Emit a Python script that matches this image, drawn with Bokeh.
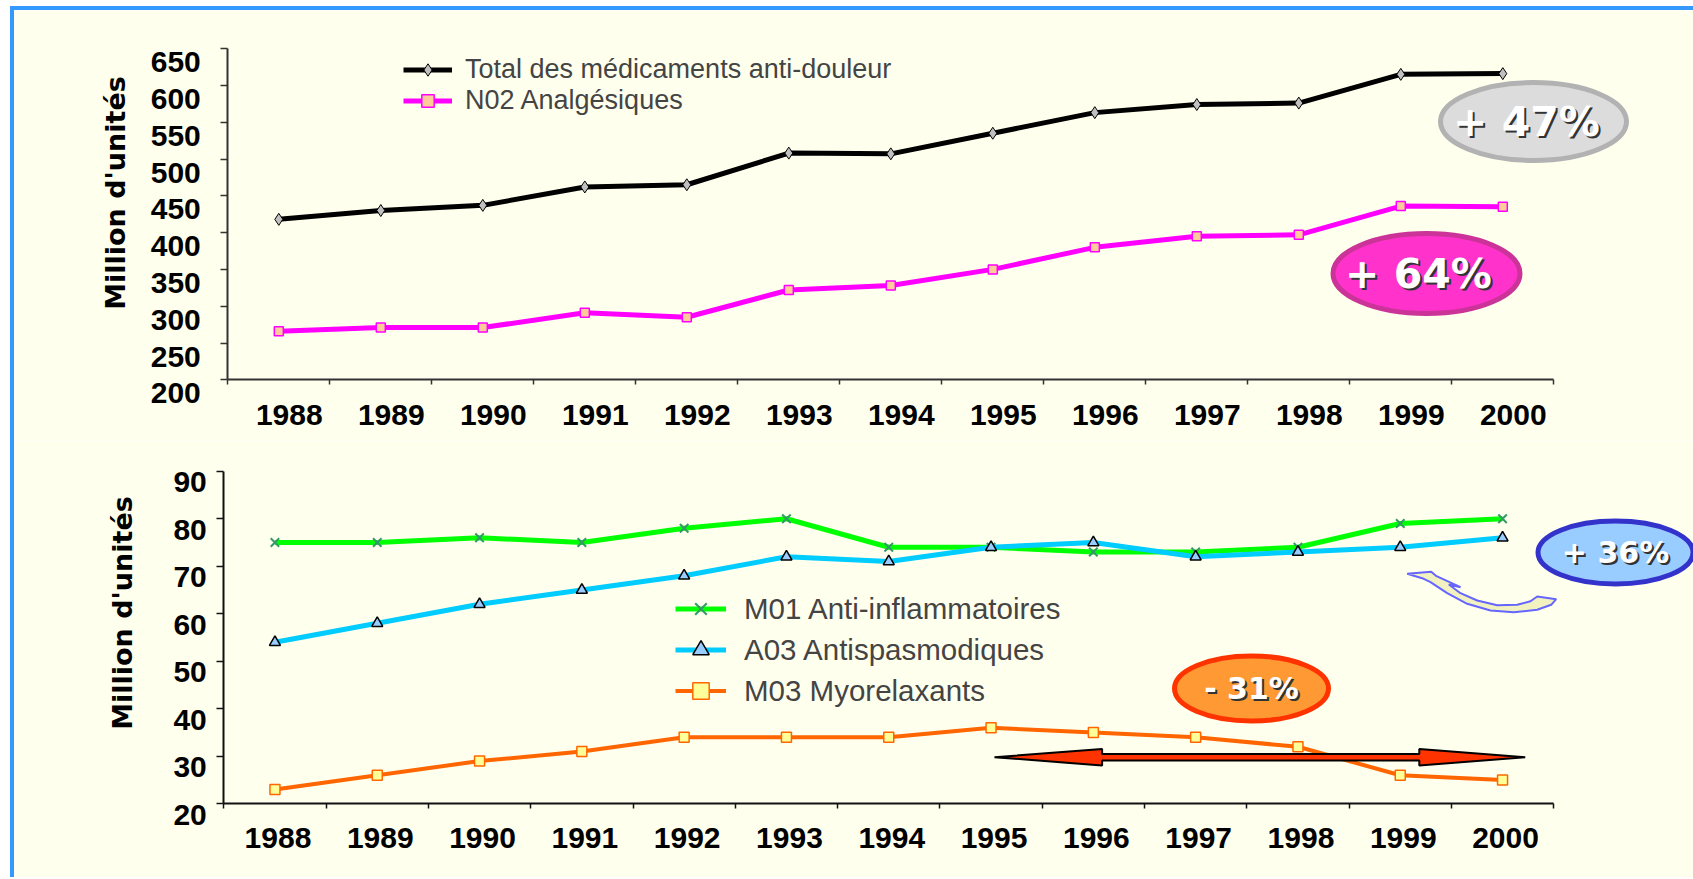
import math
from bokeh.plotting import figure
from bokeh.models import (Range1d, FixedTicker, LinearAxis, Legend, LegendItem)
from bokeh.layouts import column
from bokeh.embed import file_html
from bokeh.resources import INLINE
from bokeh.core.properties import value

# ---------------- data ----------------
years = list(range(1988, 2001))
year_labels = [str(y) for y in years]
total_antidouleur = [418, 430, 437, 462, 465, 508, 507, 535, 563, 574, 576, 615, 616]
n02_analgesiques = [266, 271, 271, 291, 285, 322, 328, 350, 380, 395, 397, 436, 435]
m01_anti_inflammatoires = [75, 75, 76, 75, 78, 80, 74, 74, 73, 73, 74, 79, 80]
a03_antispasmodiques = [54, 58, 62, 65, 68, 72, 71, 74, 75, 72, 73, 74, 76]
m03_myorelaxants = [23, 26, 29, 31, 34, 34, 34, 36, 35, 34, 32, 26, 25]
top_ticks = [200, 250, 300, 350, 400, 450, 500, 550, 600, 650]
bottom_ticks = [20, 30, 40, 50, 60, 70, 80, 90]
top_legend = ["Total des médicaments anti-douleur", "N02 Analgésiques"]
bottom_legend = ["M01 Anti-inflammatoires", "A03 Antispasmodiques", "M03 Myorelaxants"]
top_badges = ["+ 47%", "+ 64%"]
bottom_badges = ["+ 36%", "- 31%"]
y_title = "Million d'unités"

# ---------------- layout / style ----------------
BG = "#ffffee"
BADGE_FONT = value("DejaVu Sans")
TITLE_FONT = value("DejaVu Sans")
ORIGIN_X = 14      # page x of the figures' left edge (10px margin + 4px border)
WIDTH = 1679


def make_fig(top_px, height, axis_x, axis_y, px_year, px_unit, yticks, color,
             xlab_shift, ylab_shift, ylab_standoff, xlab_standoff):
    x_base = years[0] - 0.5
    y_base = yticks[0]
    x0 = x_base - (axis_x - ORIGIN_X) / px_year
    x1 = x0 + WIDTH / px_year
    y0 = y_base - (top_px + height - axis_y) / px_unit
    y1 = y_base + (axis_y - top_px) / px_unit
    p = figure(frame_width=WIDTH, frame_height=height,
               min_border_left=0, min_border_right=0,
               min_border_top=0, min_border_bottom=0,
               x_range=Range1d(x0, x1), y_range=Range1d(y0, y1),
               output_backend="svg", toolbar_location=None,
               background_fill_color=BG, border_fill_color=BG,
               outline_line_color=None)
    p.xgrid.visible = False
    p.ygrid.visible = False

    dx = xlab_shift / px_year
    dy = ylab_shift / px_unit
    p.extra_x_ranges = {"xlab": Range1d(x0 - dx, x1 - dx)}
    p.extra_y_ranges = {"ylab": Range1d(y0 + dy, y1 + dy)}

    # main x axis: line + category boundary ticks
    xa = p.xaxis[0]
    xa.fixed_location = y_base
    xa.ticker = FixedTicker(ticks=[], minor_ticks=[y - 0.5 for y in years] + [years[-1] + 0.5])
    xa.bounds = (x_base, years[-1] + 0.5)
    xa.major_tick_in = 0
    xa.major_tick_out = 0
    xa.minor_tick_in = 0
    xa.minor_tick_out = 5
    xa.minor_tick_line_color = color
    xa.minor_tick_line_width = 1.5
    xa.axis_line_color = color
    xa.axis_line_width = 2

    # main y axis: line + ticks
    ya = p.yaxis[0]
    ya.fixed_location = x_base
    ya.ticker = FixedTicker(ticks=[], minor_ticks=yticks)
    ya.bounds = (yticks[0], yticks[-1])
    ya.major_tick_in = 0
    ya.major_tick_out = 0
    ya.minor_tick_in = 0
    ya.minor_tick_out = 7
    ya.minor_tick_line_color = color
    ya.minor_tick_line_width = 1.5
    ya.axis_line_color = color
    ya.axis_line_width = 2

    # label axes (slightly offset labels, as in the original slide)
    xl = LinearAxis(x_range_name="xlab", fixed_location=y_base,
                    ticker=FixedTicker(ticks=years),
                    major_label_overrides={y: s for y, s in zip(years, year_labels)},
                    axis_line_color=None, major_tick_line_color=None,
                    minor_tick_line_color=None, major_tick_out=0, major_tick_in=0,
                    major_label_standoff=xlab_standoff,
                    major_label_text_font="Liberation Sans",
                    major_label_text_font_style="bold",
                    major_label_text_font_size="30px",
                    major_label_text_color="black")
    p.add_layout(xl, "below")
    yl = LinearAxis(y_range_name="ylab", fixed_location=x_base,
                    ticker=FixedTicker(ticks=yticks),
                    axis_line_color=None, major_tick_line_color=None,
                    minor_tick_line_color=None, major_tick_out=0, major_tick_in=0,
                    major_label_standoff=ylab_standoff,
                    major_label_text_font="Liberation Sans",
                    major_label_text_font_style="bold",
                    major_label_text_font_size="30px",
                    major_label_text_color="black")
    p.add_layout(yl, "left")
    return p


def y_axis_title(p, x, y):
    p.text(x=[x], y=[y], text=[y_title], angle=math.pi / 2,
           text_font=TITLE_FONT, text_font_style="bold", text_font_size="27px",
           text_color="black", text_align="center", text_baseline="middle")


def badge(p, x, y, w, h, fill, line, text, size, text_dx=0):
    p.ellipse(x=[x], y=[y], width=w, height=h, width_units="screen",
              height_units="screen", fill_color=fill, line_color=line, line_width=5)
    p.text(x=[x], y=[y], text=[text], x_offset=text_dx + 2, y_offset=2,
           text_color="#333333",
           text_font=BADGE_FONT, text_font_style="bold", text_font_size=size,
           text_align="center", text_baseline="middle")
    p.text(x=[x], y=[y], text=[text], x_offset=text_dx, text_color="white",
           text_font=BADGE_FONT, text_font_style="bold", text_font_size=size,
           text_align="center", text_baseline="middle")


# ---------------- top chart ----------------
T_AX, T_AY, T_PXY, T_PXU = 227.3, 379.3, 102.0, 0.736
p1 = make_fig(10, 430, T_AX, T_AY, T_PXY, T_PXU, top_ticks, "#333333",
              xlab_shift=10.5, ylab_shift=13.5, ylab_standoff=27, xlab_standoff=25)
tx = lambda px: years[0] - 0.5 + (px - T_AX) / T_PXY
ty = lambda py: top_ticks[0] + (T_AY - py) / T_PXU
y_axis_title(p1, tx(115), ty(192.5))

l_tot = p1.line(years, total_antidouleur, line_color="black", line_width=5)
s_tot = p1.scatter(years, total_antidouleur, marker="diamond", size=12,
                   fill_color="#c0c0c0", line_color="black", line_width=1)
l_n02 = p1.line(years, n02_analgesiques, line_color="#ff00ff", line_width=5)
s_n02 = p1.scatter(years, n02_analgesiques, marker="square", size=9,
                   fill_color="#ffcc99", line_color="#ff00ff", line_width=1.5)

badge(p1, tx(1533), ty(121), 186, 78, "#dcdcdc", "#b2b2b2", top_badges[0], "41px", -7)
badge(p1, tx(1426), ty(273), 187, 80, "#ff33cc", "#cc3399", top_badges[1], "41px", -8)

leg1 = Legend(items=[LegendItem(label=top_legend[0], renderers=[l_tot, s_tot]),
                     LegendItem(label=top_legend[1], renderers=[l_n02, s_n02])],
              location=(389, 440 - 115.5), glyph_width=49, glyph_height=31,
              label_height=31, label_standoff=13, spacing=0, padding=0, margin=0,
              label_text_font="Liberation Sans", label_text_font_size="27px",
              border_line_color=None, background_fill_alpha=0)
p1.add_layout(leg1)

# ---------------- bottom chart ----------------
B_AX, B_AY, B_PXY, B_PXU = 223.3, 803.3, 102.3, 4.751
p2 = make_fig(440, 437, B_AX, B_AY, B_PXY, B_PXU, bottom_ticks, "#111111",
              xlab_shift=3, ylab_shift=11, ylab_standoff=17, xlab_standoff=24)
bx = lambda px: years[0] - 0.5 + (px - B_AX) / B_PXY
by = lambda py: bottom_ticks[0] + (B_AY - py) / B_PXU
y_axis_title(p2, bx(122), by(612.5))

l_m01 = p2.line(years, m01_anti_inflammatoires, line_color="#00ff00", line_width=5)
s_m01 = p2.scatter(years, m01_anti_inflammatoires, marker="x", size=12,
                   line_color="#339966", line_width=2)
l_a03 = p2.line(years, a03_antispasmodiques, line_color="#00ccff", line_width=5)
s_a03 = p2.scatter(years, a03_antispasmodiques, marker="triangle", size=11,
                   fill_color="#99ccff", line_color="black", line_width=1.5)
l_m03 = p2.line(years, m03_myorelaxants, line_color="#ff6600", line_width=4)
s_m03 = p2.scatter(years, m03_myorelaxants, marker="square", size=10,
                   fill_color="#ffff99", line_color="#ff6600", line_width=1.5)

# double arrow (decoration)
arrow_px = [(994, 756.7), (1101.6, 748.4), (1101.6, 753.4), (1418.8, 753.4),
            (1418.8, 748.4), (1524.7, 756.7), (1418.8, 765.0), (1418.8, 760.0),
            (1101.6, 760.0), (1101.6, 765.0)]
p2.patch([bx(a) for a, b in arrow_px], [by(b) for a, b in arrow_px],
         fill_color="#ff3300", line_color="black", line_width=2)

# curved arrow (decoration)
curve_px = [(1406.7, 573.3), (1430.7, 571.3), (1436, 575.7), (1460, 586.7),
            (1448.3, 584), (1460, 592.7), (1476.7, 600), (1496.7, 604.7),
            (1516.7, 604.3), (1530, 600.7), (1536.7, 596), (1555.7, 598.7),
            (1550.7, 604.3), (1536.7, 609.3), (1513.3, 611.7), (1490, 610),
            (1466.7, 603.3), (1446.7, 592.7), (1430, 581.7), (1421.7, 577.7)]
p2.patch([bx(a) for a, b in curve_px], [by(b) for a, b in curve_px],
         fill_color="#f2f2c0", line_color="#6666ff", line_width=2)

badge(p2, bx(1615), by(552), 155, 63, "#99ccff", "#3333cc", bottom_badges[0], "30px")
badge(p2, bx(1251), by(688), 154, 65, "#ff9933", "#ff3300", bottom_badges[1], "30px")

leg2 = Legend(items=[LegendItem(label=bottom_legend[0], renderers=[l_m01, s_m01]),
                     LegendItem(label=bottom_legend[1], renderers=[l_a03, s_a03]),
                     LegendItem(label=bottom_legend[2], renderers=[l_m03, s_m03])],
              location=(661, 877 - 711), glyph_width=51, glyph_height=41,
              label_height=41, label_standoff=18, spacing=0, padding=0, margin=0,
              label_text_font="Liberation Sans", label_text_font_size="29.5px",
              border_line_color=None, background_fill_alpha=0)
p2.add_layout(leg2)

layout = column(p1, p2, spacing=0,
                styles={"margin-left": "10px", "margin-top": "6px",
                        "border-left": "4px solid #3399ff",
                        "border-top": "4px solid #3399ff"})

open("out.html", "w").write(file_html(layout, INLINE))
